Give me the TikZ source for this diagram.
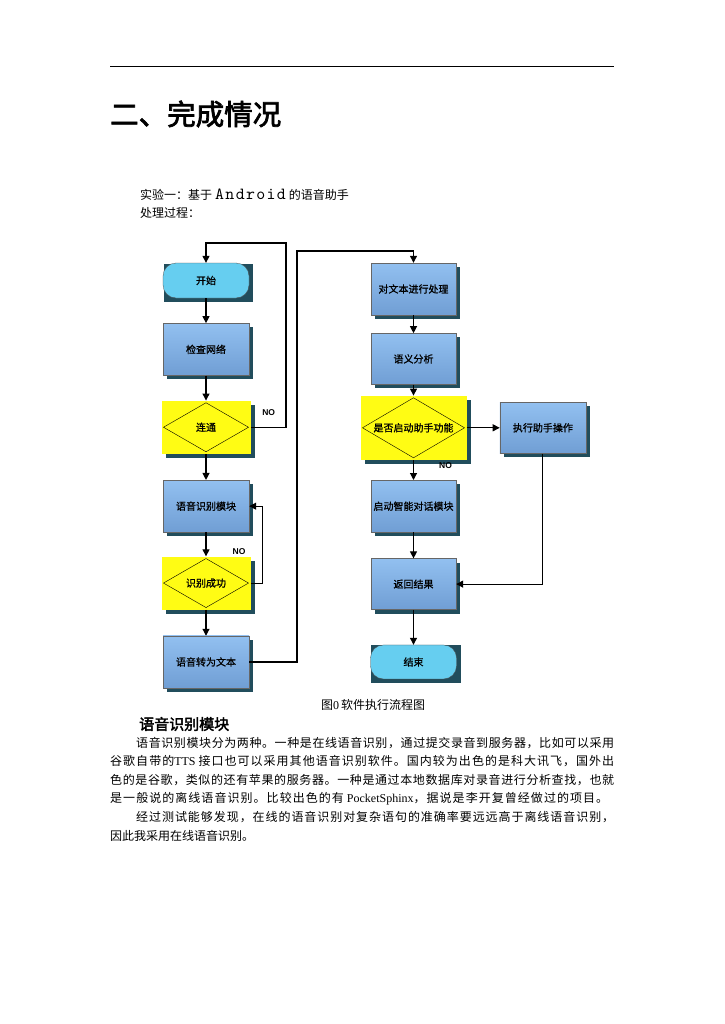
\documentclass[tikz,border=0pt]{standalone}
\usepackage{fontspec}
\setmainfont{Liberation Serif}
\newfontfamily\cjk{Noto Sans CJK SC}
\newfontfamily\cjkbf[FakeBold=2.5]{Noto Sans CJK SC}
\newfontfamily\cjkmid[FakeBold=1]{Noto Sans CJK SC}
\newfontfamily\labfont{Liberation Sans}
\newfontfamily\monof{lmmono10-regular}[Extension=.otf, LetterSpace=8]
\usetikzlibrary{positioning, shadows, backgrounds, arrows.meta, calc}
% stretchable glue between CJK characters, for justified lines
\makeatletter
\count@="3000
\loop\ifnum\count@<"A000 \XeTeXcharclass\count@=1 \advance\count@ by 1 \repeat
\count@="FF00
\loop\ifnum\count@<"FFF0 \XeTeXcharclass\count@=1 \advance\count@ by 1 \repeat
\makeatother
\newcommand{\cjkglue}{\hskip 0pt plus 4pt\relax}
\XeTeXinterchartokenstate=1
\XeTeXinterchartoks 1 1 = {\cjkglue}
\XeTeXinterchartoks 1 0 = {\cjkglue}
\XeTeXinterchartoks 0 1 = {\cjkglue}

\definecolor{boxtop}{RGB}{146,192,240}
\definecolor{boxbot}{RGB}{112,158,212}
\definecolor{shadowc}{RGB}{33,77,92}
\definecolor{termc}{RGB}{102,206,240}
\definecolor{decidec}{RGB}{255,252,20}

\begin{document}
\begin{tikzpicture}[
      x=1pt, y=-1pt,
      node distance=25pt,
      box/.style={draw=gray!80!black, line width=0.4pt, top color=boxtop,
                  bottom color=boxbot, minimum width=86pt, minimum height=52pt,
                  inner sep=1pt, align=center, font=\cjkmid\fontsize{10}{12}\selectfont,
                  drop shadow={shadow xshift=4pt, shadow yshift=-4pt,
                               fill=shadowc, opacity=1}},
      term/.style={draw=gray!60!black, line width=0.3pt, fill=termc,
                   rounded corners=13pt, minimum width=86pt, minimum height=35pt,
                   inner sep=1pt, font=\cjkmid\fontsize{10}{12}\selectfont},
      decide/.style={fill=decidec, minimum width=89pt, minimum height=53pt,
                     inner sep=1pt, font=\cjkmid\fontsize{10}{12}\selectfont,
                     drop shadow={shadow xshift=4pt, shadow yshift=-4pt,
                                  fill=shadowc, opacity=1},
                     path picture={\draw[line width=0.4pt]
                       ([xshift=2pt]path picture bounding box.west)
                       -- ([yshift=-2pt]path picture bounding box.north)
                       -- ([xshift=-2pt]path picture bounding box.east)
                       -- ([yshift=2pt]path picture bounding box.south) -- cycle;}},
      arrow/.style={-{Triangle[length=7pt,width=7pt]}, line width=1.1pt},
      nolabel/.style={font=\labfont\bfseries\fontsize{8.5}{10}\selectfont, inner sep=0pt},
      bodyline/.style={anchor=west, inner sep=0pt, font=\cjk\fontsize{12}{14}\selectfont}
    ]
    \begin{scope}[on background layer]
      \fill[white] (0,0) rectangle (724,1024);
    \end{scope}
    \useasboundingbox (0,0) rectangle (724,1024);

    % page head
    \draw[line width=0.8pt] (110,66) -- (614,66);
    \node[anchor=west, inner sep=0pt, font=\cjkbf\fontsize{28.5}{30}\selectfont] (title) at (110,114) {二、完成情况};
    \node[bodyline] (exp) at (140,195) {实验一：基于\hspace{3pt}{\fontsize{17}{17}\monof Android}\hspace{3pt}的语音助手};
    \node[bodyline] (proc0) at (140,213) {处理过程：};

    % left column
    \node[term] (start) at (206,280.5) {开始};
    \node[box, below=of start] (check) {检查网络};
    \node[decide, below=of check] (conn) {连通};
    \node[box, below=26pt of conn] (asr) {语音识别模块};
    \node[decide, below=24pt of asr] (ok) {识别成功};
    \node[box, below=26pt of ok] (totext) {语音转为文本};

    % right column
    \node[box, minimum width=85pt] (proc) at (413.5,289) {对文本进行处理};
    \node[box, minimum width=85pt, minimum height=51pt, below=18pt of proc] (sem) {语义分析};
    \node[decide, minimum width=106pt, minimum height=64pt, below=11pt of sem] (ask) {是否启动助手功能};
    \node[box, minimum height=51pt, right=33pt of ask] (exec) {执行助手操作};
    \node[box, minimum width=85pt, below=20pt of ask] (chat) {启动智能对话模块};
    \node[box, minimum width=85pt, minimum height=51pt, below=26pt of chat] (ret) {返回结果};
    \node[term, minimum height=34pt, below=35pt of ret] (end) {结束};

    \begin{scope}[on background layer]
      \fill[shadowc] ([xshift=1pt,yshift=-1pt]start.north west) rectangle ([xshift=4pt,yshift=-4pt]start.south east);
      \fill[shadowc] ([xshift=1pt]end.north west) rectangle ([xshift=4pt,yshift=-4pt]end.south east);
    \end{scope}

    \coordinate (backtop) at (286,243);
    \coordinate (hop) at (297,251);

    \draw[arrow] (start) -- (check);
    \draw[arrow] (check) -- (conn);
    \draw[arrow] (conn) -- (asr);
    \draw[arrow] (asr) -- (ok);
    \draw[arrow] (ok) -- (totext);
    \draw[arrow] (conn.east) -| (backtop) -| (start.north);
    \draw[arrow] (ok.east) -- ++(12,0) |- (asr.east);
    \draw[arrow] (totext.east) -| (hop) -| (proc.north);

    \draw[arrow] (proc) -- (sem);
    \draw[arrow] (sem) -- (ask);
    \draw[arrow] (ask) -- (chat);
    \draw[arrow] (chat) -- (ret);
    \draw[arrow] (ret) -- (end);
    \draw[arrow] (ask) -- (exec);
    \draw[arrow] (exec.south) |- (ret.east);

    \node[nolabel] at ([xshift=18pt,yshift=15pt]conn.east) {NO};
    \node[nolabel] at ([xshift=33pt,yshift=5pt]ok.north) {NO};
    \node[nolabel] at ([xshift=32pt,yshift=-6pt]ask.south) {NO};

    % caption and text
    \node[inner sep=0pt, font=\cjk\fontsize{12}{14}\selectfont] (cap) at (373,705) {图{\rmfamily 0}\,软件执行流程图};
    \node[anchor=west, inner sep=0pt, font=\cjkbf\fontsize{15}{17}\selectfont] (sec) at (139,724) {语音识别模块};
    \node[bodyline] (l1) at (136,743) {\makebox[478pt][s]{语音识别模块分为两种。一种是在线语音识别，通过提交录音到服务器，比如可以采用}};
    \node[bodyline] (l2) at (110,761.5) {\makebox[504pt][s]{谷歌自带的{\rmfamily TTS}\hspace{3pt}接口也可以采用其他语音识别软件。国内较为出色的是科大讯飞，国外出}};
    \node[bodyline] (l3) at (110,780) {\makebox[504pt][s]{色的是谷歌，类似的还有苹果的服务器。一种是通过本地数据库对录音进行分析查找，也就}};
    \node[bodyline] (l4) at (110,798.5) {\makebox[498pt][s]{是一般说的离线语音识别。比较出色的有\hspace{3pt}{\rmfamily PocketSphinx}，据说是李开复曾经做过的项目。}};
    \node[bodyline] (l5) at (136,817) {\makebox[478pt][s]{经过测试能够发现，在线的语音识别对复杂语句的准确率要远远高于离线语音识别，}};
    \node[bodyline] (l6) at (110,835.5) {因此我采用在线语音识别。};
  \end{tikzpicture}
\end{document}
